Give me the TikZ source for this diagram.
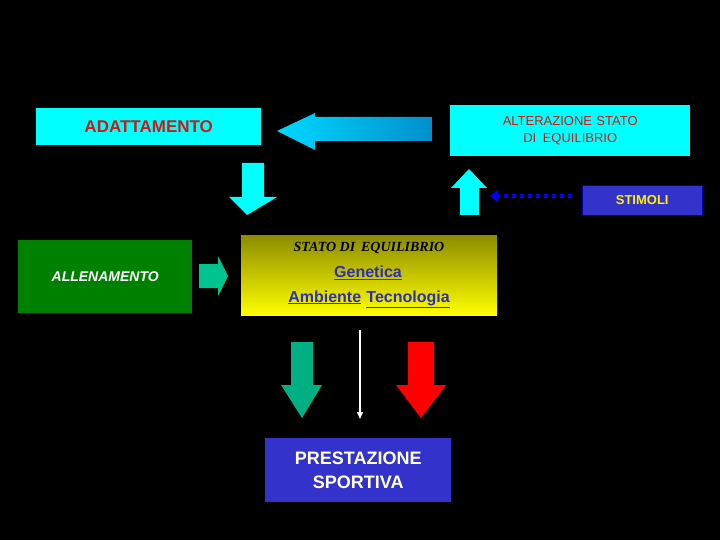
\documentclass[tikz,border=0pt]{standalone}
\usepackage{fontspec}
\setmainfont{Liberation Sans}
\newfontfamily\serifit{Liberation Serif}
\usetikzlibrary{arrows.meta}
\definecolor{cy}{HTML}{00FFFF}
\definecolor{rd}{HTML}{D01818}
\definecolor{bl}{HTML}{3333CC}
\definecolor{gr}{HTML}{008000}
\definecolor{sea}{HTML}{00C490}
\tikzset{box/.style={draw=none,inner sep=0pt,anchor=north west},
 txt/.style={font=\bfseries}}
\begin{document}
\begin{tikzpicture}[x=1pt,y=-1pt]
\fill[black] (0,0) rectangle (720,540);
\useasboundingbox (0,0) rectangle (720,540);
% boxes
\node[box,fill=cy,minimum width=225,minimum height=37] (ad) at (36,108) {};
\node[text=rd,font=\bfseries\fontsize{17}{20}\selectfont] at (ad.center) {ADATTAMENTO};
\node[box,fill=cy,minimum width=240,minimum height=51] (alt) at (450,105) {};
\node[text=rd,font=\fontsize{13}{17}\selectfont,align=center] at (alt.center) {ALTERAZIONE\,\,STATO\\DI\,\,\,EQUILIBRIO};
\node[box,fill=bl,minimum width=120,minimum height=30,draw=blue!70!black] (st) at (582,185) {};
\node[text=yellow,font=\bfseries\fontsize{13}{15}\selectfont] at (st.center) {STIMOLI};
\node[box,fill=gr,minimum width=174,minimum height=73] (al) at (18,240) {};
\node[text=white,font=\bfseries\itshape\fontsize{14}{16}\selectfont] at (al.center) {ALLENAMENTO};
\node[box,top color=black!45!yellow,bottom color=yellow,minimum width=256,minimum height=80] (eq) at (241,235) {};
\node[font=\serifit\bfseries\itshape\fontsize{14}{16}\selectfont] at (369,248) {STATO DI\, EQUILIBRIO};
\node[text=bl!90!black,font=\bfseries\fontsize{16}{18}\selectfont] at (368,273) {\underline{Genetica}};
\node[text=bl!90!black,font=\bfseries\fontsize{16}{18}\selectfont] at (369,299) {\underline{Ambiente}\,\,\underline{Tecnologia}};
\node[box,fill=bl,minimum width=186,minimum height=64] (pr) at (265,438) {};
\node[text=white,font=\bfseries\fontsize{18}{24}\selectfont,align=center] at (pr.center) {PRESTAZIONE\\SPORTIVA};
% block arrows
\shade[left color=cy!85!blue,right color=blue!30!cy!80!black] (432,117) -- (315,117) -- (315,113) -- (277,131) -- (315,150) -- (315,141) -- (432,141) -- cycle;
\fill[cy] (242,163) -- (264,163) -- (264,197) -- (277,197) -- (247,215) -- (229,197) -- (242,197) -- cycle;
\fill[cy] (460,215) -- (479,215) -- (479,188) -- (487,188) -- (469,169) -- (451,188) -- (460,188) -- cycle;
\fill[sea] (199,264) -- (218,264) -- (218,256) -- (228,276) -- (218,296) -- (218,288) -- (199,288) -- cycle;
\fill[sea!90!black] (291,342) -- (313,342) -- (313,385) -- (322,385) -- (302,418) -- (281,385) -- (291,385) -- cycle;
\fill[red] (408,342) -- (434,342) -- (434,385) -- (446,385) -- (421,418) -- (396,385) -- (408,385) -- cycle;
% line arrows
\coordinate (s1) at (572,196);
\coordinate (s2) at (490,196);
\draw[blue,line width=4pt,dash pattern=on 4pt off 4pt,-{Triangle[length=8pt,width=12pt]}] (s1) -- (s2);
\coordinate (w1) at (360,330);
\coordinate (w2) at (360,419);
\draw[white,line width=1.5pt,-{Triangle[length=7pt,width=6pt]}] (w1) -- (w2);
\end{tikzpicture}
\end{document}
